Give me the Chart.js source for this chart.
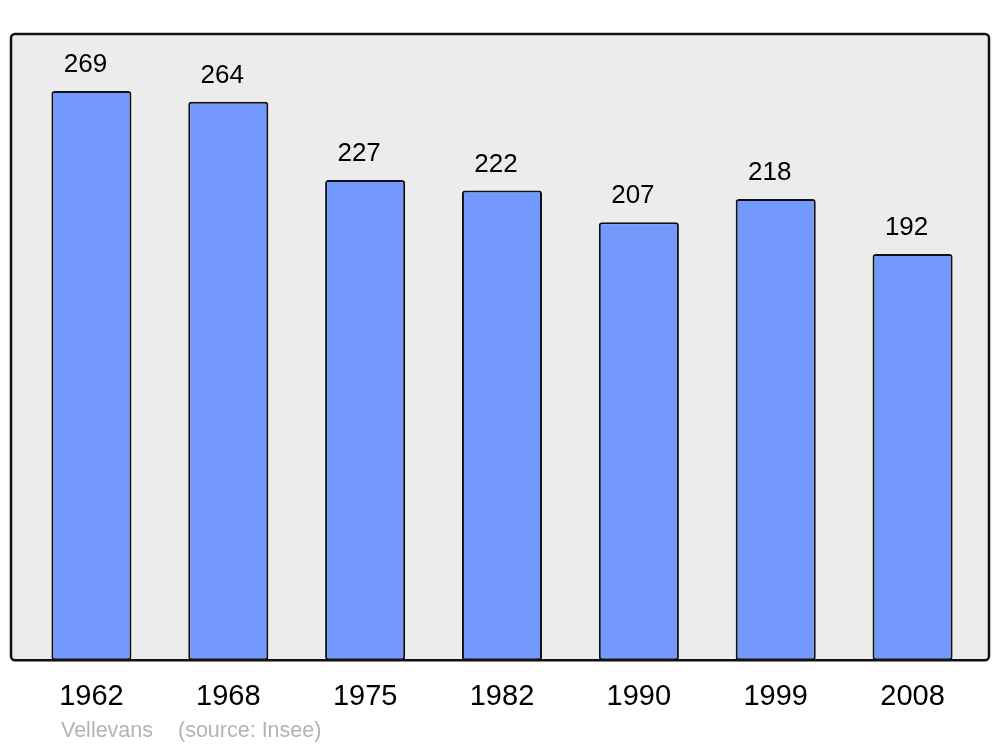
<!DOCTYPE html>
<html>
<head>
<meta charset="utf-8">
<script src="https://cdn.jsdelivr.net/npm/chart.js@4.4.0/dist/chart.umd.min.js"></script>
<style>
  html, body { margin: 0; padding: 0; background: #ffffff; }
  #wrap { width: 1000px; height: 747px; }
</style>
</head>
<body>
<div id="wrap"><canvas id="popChart"></canvas></div>
<script>
// Données
const annees = ["1962", "1968", "1975", "1982", "1990", "1999", "2008"];
const population = [269, 264, 227, 222, 207, 218, 192];
const commune = "Vellevans";
const source = "(source: Insee)";

// cadre gris + bordure noire
const framePlugin = {
  id: "frame",
  beforeDatasetsDraw(chart) {
    const { ctx, chartArea: a } = chart;
    ctx.save();
    ctx.fillStyle = "#ececec";
    ctx.beginPath();
    ctx.roundRect(a.left - 12, a.top, a.right - a.left + 20, a.bottom - a.top, 4);
    ctx.fill();
    ctx.restore();
  },
  afterDatasetsDraw(chart) {
    const { ctx, chartArea: a } = chart;
    ctx.save();
    ctx.strokeStyle = "#111111";
    ctx.lineWidth = 2.5;
    ctx.beginPath();
    ctx.roundRect(a.left - 12, a.top, a.right - a.left + 20, a.bottom - a.top, 4);
    ctx.stroke();

    // valeurs au-dessus des barres (un peu décalées à gauche, comme l'original)
    ctx.fillStyle = "#000000";
    ctx.font = "26px 'Liberation Sans', Arial, sans-serif";
    ctx.textAlign = "center";
    ctx.textBaseline = "middle";
    const meta = chart.getDatasetMeta(0);
    meta.data.forEach((bar, i) => {
      ctx.fillText(String(population[i]), bar.x - 6, bar.y - 26);
    });

    // source
    ctx.fillStyle = "#b3b3b3";
    ctx.font = "21.5px 'Liberation Sans', Arial, sans-serif";
    ctx.textAlign = "left";
    ctx.textBaseline = "alphabetic";
    ctx.fillText(commune, 61, 737);
    ctx.fillText(source, 178, 737);
    ctx.restore();
  },
};

new Chart(document.getElementById("popChart"), {
  type: "bar",
  data: {
    labels: annees,
    datasets: [
      {
        data: population,
        backgroundColor: "#7399ff",
        borderColor: "#111111",
        borderWidth: 2,
        borderRadius: 3,
        borderSkipped: false,
        barPercentage: 0.585,
        categoryPercentage: 1,
      },
    ],
  },
  options: {
    responsive: true,
    maintainAspectRatio: false,
    animation: false,
    layout: { padding: { left: 23, right: 19, top: 34, bottom: 14 } },
    plugins: {
      legend: { display: false },
      tooltip: { enabled: false },
    },
    scales: {
      x: {
        grid: { display: false, drawTicks: false },
        border: { display: false },
        ticks: {
          color: "#000000",
          padding: 19,
          font: { size: 29, family: "'Liberation Sans', Arial, sans-serif" },
        },
      },
      y: {
        display: false,
        min: 0,
        max: 296,
      },
    },
  },
  plugins: [framePlugin],
});
</script>
</body>
</html>
